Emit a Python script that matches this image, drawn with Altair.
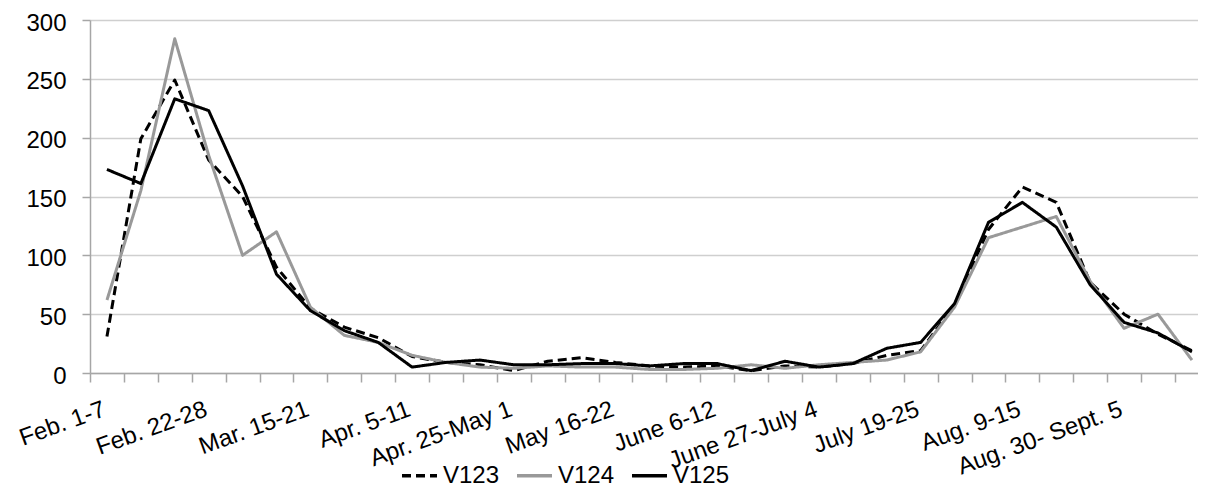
import json
import altair as alt
import pandas as pd

weeks = [
    "Feb. 1-7", "Feb. 8-14", "Feb. 15-21", "Feb. 22-28", "Mar. 1-7", "Mar. 8-14",
    "Mar. 15-21", "Mar. 22-28", "Mar. 29-Apr. 4", "Apr. 5-11", "Apr. 12-18", "Apr. 19-24",
    "Apr. 25-May 1", "May 2-8", "May 9-15", "May 16-22", "May 23-29", "May 30-June 5",
    "June 6-12", "June 13-19", "June 20-26", "June 27-July 4", "July 5-11", "July 12-18",
    "July 19-25", "July 26-Aug. 1", "Aug. 2-8", "Aug. 9-15", "Aug. 16-22", "Aug. 23-29",
    "Aug. 30- Sept. 5", "Sept. 6-12", "Sept. 13-19",
]

series_names = ["V123", "V124", "V125"]
v123 = [31, 199, 249, 181, 150, 90, 55, 39, 30, 14, 9, 7, 2, 10, 13, 9, 6, 5, 6, 2, 6, 5, 8, 15, 19, 58, 122, 158, 145, 77, 50, 33, 19]
v124 = [62, 155, 284, 185, 100, 120, 56, 32, 26, 15, 9, 5, 4, 6, 5, 5, 3, 3, 4, 7, 4, 7, 9, 11, 18, 56, 115, 124, 133, 78, 38, 50, 11]
v125 = [173, 161, 233, 223, 159, 84, 53, 36, 26, 5, 9, 11, 7, 7, 8, 8, 6, 8, 8, 2, 10, 5, 8, 21, 26, 59, 128, 145, 124, 75, 43, 34, 18]

y_ticks = [0, 50, 100, 150, 200, 250, 300]

rows = []
for name, vals in zip(series_names, [v123, v124, v125]):
    for i, (w, v) in enumerate(zip(weeks, vals)):
        rows.append({"idx": i, "week": w, "series": name, "value": v})
df = pd.DataFrame(rows)

shown = [w if i % 3 == 0 else "" for i, w in enumerate(weeks)]
label_expr = json.dumps(shown) + "[round(datum.value + 0.5)] || ''"

FONT = "Liberation Sans"
AXIS_GRAY = "#a6a6a6"
FS = 24

chart = (
    alt.Chart(df)
    .mark_line(strokeWidth=3, strokeCap="butt", strokeJoin="round")
    .encode(
        x=alt.X(
            "idx:Q",
            scale=alt.Scale(domain=[-0.5, 32.18], nice=False, zero=False),
            axis=alt.Axis(
                values=[i - 0.5 for i in range(len(weeks))],
                labelExpr=label_expr,
                labelAngle=-20,
                labelAlign="right",
                labelBaseline="top",
                labelOffset=10,
                labelPadding=15,
                labelOverlap=False,
                labelFlush=False,
                grid=False,
                tickSize=9,
                tickWidth=1.5,
                tickColor=AXIS_GRAY,
                domainColor=AXIS_GRAY,
                domainWidth=1.5,
                labelFontSize=FS,
                labelColor="#000000",
                labelFont=FONT,
                title=None,
            ),
        ),
        y=alt.Y(
            "value:Q",
            scale=alt.Scale(domain=[0, 300], nice=False),
            axis=alt.Axis(
                values=y_ticks,
                grid=True,
                gridColor="#cfcfcf",
                gridWidth=1.5,
                tickSize=8,
                tickWidth=1.5,
                tickColor=AXIS_GRAY,
                domainColor=AXIS_GRAY,
                domainWidth=1.5,
                labelPadding=16,
                labelOffset=3,
                labelBaseline="middle",
                labelFontSize=FS,
                labelColor="#000000",
                labelFont=FONT,
                title=None,
            ),
        ),
        color=alt.Color(
            "series:N",
            scale=alt.Scale(domain=series_names, range=["#000000", "#999999", "#000000"]),
            title=None,
        ),
        strokeDash=alt.StrokeDash(
            "series:N",
            scale=alt.Scale(domain=series_names, range=[[9, 5], [1, 0], [1, 0]]),
            title=None,
        ),
    )
    .properties(
        width=1108,
        height=353,
        autosize=alt.AutoSizeParams(type="none"),
        padding={"left": 82, "top": 12, "right": 0, "bottom": 118},
    )
    .configure_view(stroke=None)
    .configure_legend(
        orient="none",
        legendX=310,
        legendY=436,
        direction="horizontal",
        symbolType="stroke",
        symbolSize=1225,
        symbolStrokeWidth=3.5,
        labelFontSize=FS,
        labelFont=FONT,
        labelColor="#000000",
        labelOffset=4,
        columnPadding=10,
    )
)

chart.save("out.html", embed_options={"renderer": "svg", "actions": False})
